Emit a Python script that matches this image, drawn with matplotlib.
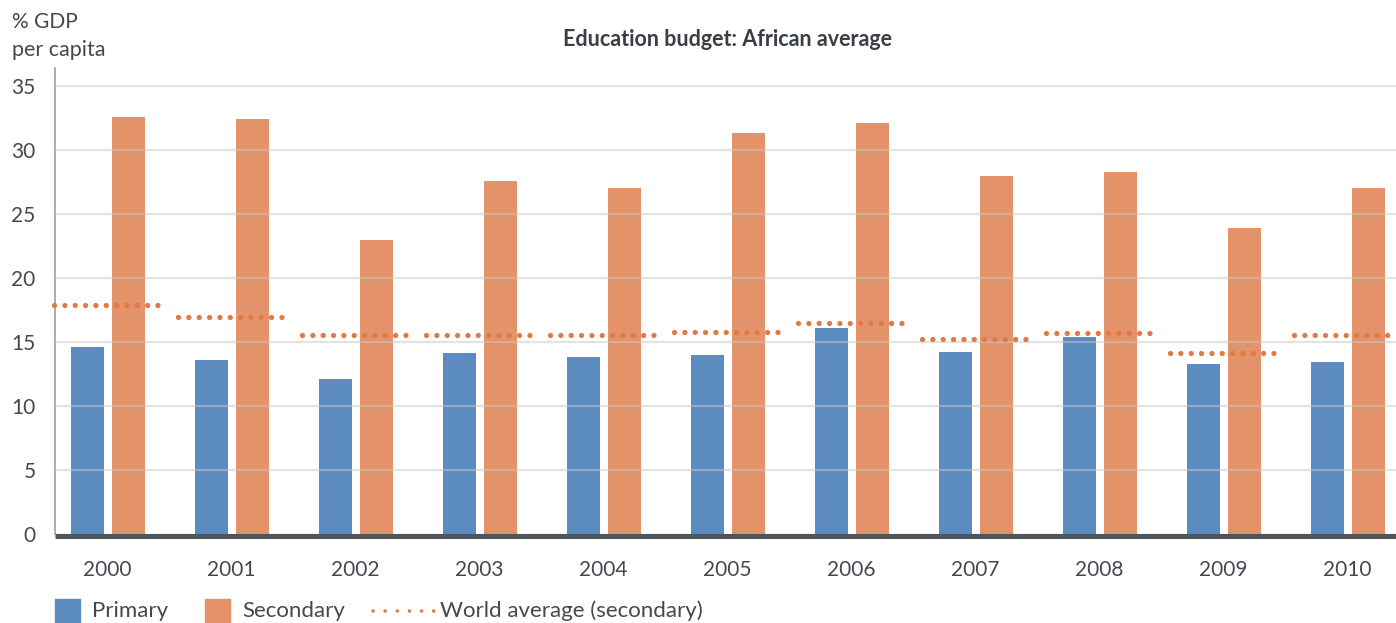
import matplotlib
matplotlib.use("Agg")
import matplotlib.pyplot as plt
import matplotlib.transforms as mtransforms
from matplotlib.patches import Rectangle
from matplotlib.lines import Line2D
import numpy as np

# Data
years = ["2000", "2001", "2002", "2003", "2004", "2005",
         "2006", "2007", "2008", "2009", "2010"]
primary = [14.6, 13.6, 12.1, 14.1, 13.8, 14.0, 16.1, 14.2, 15.4, 13.3, 13.4]
secondary = [32.6, 32.4, 22.95, 27.55, 27.0, 31.3, 32.1, 27.95, 28.25, 23.9, 27.0]
world_avg = [17.9, 16.9, 15.5, 15.5, 15.5, 15.8, 16.5, 15.25, 15.65, 14.15, 15.5]
yticks = [0, 5, 10, 15, 20, 25, 30, 35]

BLUE = "#5B8BBF"
ORANGE = "#E3926A"
DOT = "#E07A45"
TEXT = "#44494F"

plt.rcParams["font.family"] = ["Lato", "DejaVu Sans"]

W, H = 1396, 623
fig = plt.figure(figsize=(W / 100, H / 100), dpi=100)
left_px, right_px, bottom_px, top_px = 55, 1396, 533.7, 68
ax = fig.add_axes([left_px / W, 1 - bottom_px / H,
                   (right_px - left_px) / W, (bottom_px - top_px) / H])

x = np.arange(len(years))
bw = 0.266
off = 0.165
ax.bar(x - off, primary, bw, color=BLUE, zorder=2)
ax.bar(x + off, secondary, bw, color=ORANGE, zorder=2)

# World average: one dotted step per year
half = 0.435
for xi, v in zip(x, world_avg):
    ax.plot([xi - half, xi + half], [v, v], color=DOT, lw=3.8,
            linestyle=(0, (0.01, 1.95)), dash_capstyle="round",
            solid_capstyle="round", zorder=4, clip_on=False)

ax.set_xlim(-0.425, 10.39)
ax.set_ylim(0, 36.4)
ax.set_yticks(yticks)
ax.set_xticks(x)
ax.set_xticklabels(years)

# Gridlines drawn over the bars, semi-transparent
for yv in yticks[1:]:
    ax.axhline(yv, color="#C8C8C8", lw=1.6, alpha=0.5, zorder=3)

# Heavy baseline just below zero
base_tr = mtransforms.offset_copy(ax.get_yaxis_transform(), fig=fig,
                                  x=0, y=-2.6, units="dots")
ax.add_line(Line2D([0, 1], [0, 0], transform=base_tr, color="#50555B",
                   lw=3.7, solid_capstyle="butt", zorder=5, clip_on=False))

for s in ["top", "right", "bottom"]:
    ax.spines[s].set_visible(False)
ax.spines["left"].set_color("#A6A6A6")
ax.spines["left"].set_linewidth(1.3)

ax.tick_params(axis="both", length=0, labelsize=15, labelcolor=TEXT)
ax.tick_params(axis="y", pad=14)
ax.tick_params(axis="x", pad=19)

fig.text(728 / W, 1 - 40 / H, "Education budget: African average",
         ha="center", va="center", fontsize=15.5, fontweight="bold",
         color="#3A3F45")
fig.text(12 / W, 1 - 22 / H, "% GDP", ha="left", va="center",
         fontsize=15, color=TEXT)
fig.text(12 / W, 1 - 50 / H, "per capita", ha="left", va="center",
         fontsize=15.5, color=TEXT)

# Legend along the bottom edge
ly = 611
sq = 25
fig.patches.append(Rectangle((55 / W, 1 - (599 + sq) / H), sq / W, sq / H,
                             transform=fig.transFigure, color=BLUE))
fig.text(92 / W, 1 - ly / H, "Primary", ha="left", va="center",
         fontsize=16, color=TEXT)
fig.patches.append(Rectangle((205 / W, 1 - (599 + sq) / H), sq / W, sq / H,
                             transform=fig.transFigure, color=ORANGE))
fig.text(242 / W, 1 - ly / H, "Secondary", ha="left", va="center",
         fontsize=16, color=TEXT)
fig.lines.append(Line2D([373 / W, 434 / W], [1 - ly / H, 1 - ly / H],
                        transform=fig.transFigure, color=DOT, lw=2.6,
                        linestyle=(0, (0.01, 3.35)), dash_capstyle="round"))
fig.text(440 / W, 1 - ly / H, "World average (secondary)", ha="left",
         va="center", fontsize=16, color=TEXT)

fig.savefig("out.png", dpi=100, facecolor="white")
